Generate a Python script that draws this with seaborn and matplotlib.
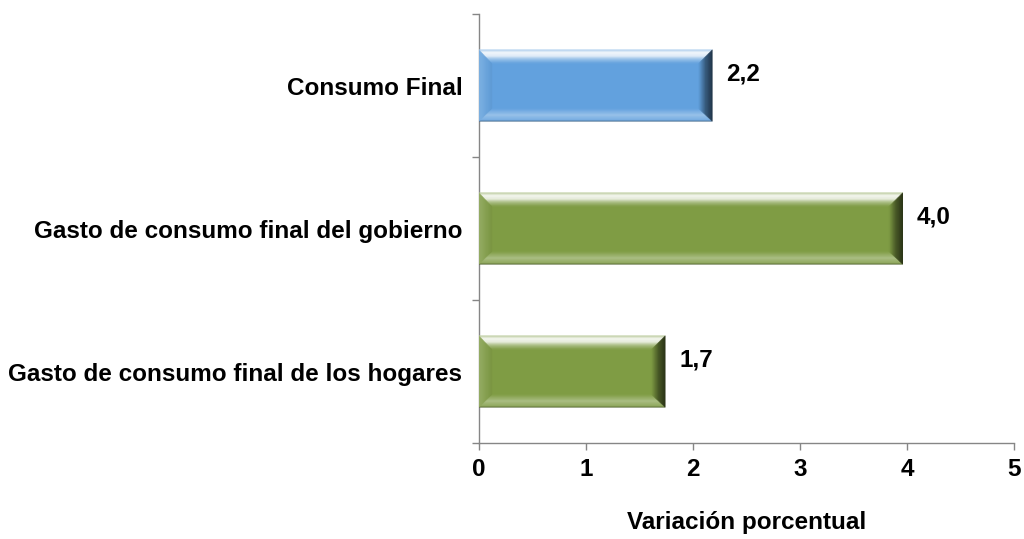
import numpy as np
import pandas as pd
import matplotlib
matplotlib.use("Agg")
import matplotlib.pyplot as plt
import seaborn as sns
from matplotlib.patches import Polygon
from matplotlib.colors import to_rgb

# ---- data ----
categorias = ["Consumo Final",
              "Gasto de consumo final del gobierno",
              "Gasto de consumo final de los hogares"]
valores = [2.18, 3.96, 1.74]
etiquetas = ["2,2", "4,0", "1,7"]
colores = ["#62A1DE", "#7F9C44", "#7F9C44"]
x_ticks = [0, 1, 2, 3, 4, 5]
x_titulo = "Variación porcentual"

sns.set_theme(style="white")
plt.rcParams["font.family"] = ["Liberation Sans", "DejaVu Sans"]
plt.rcParams["font.weight"] = "bold"

FS = 17.5
W, H = 1024, 539
fig = plt.figure(figsize=(W / 100, H / 100), dpi=100)
ax = fig.add_axes([479 / W, 1 - 443 / H, (1014 - 479) / W, (443 - 14) / H])

df = pd.DataFrame({"cat": categorias, "val": valores})
sns.barplot(data=df, x="val", y="cat", hue="cat", palette=colores,
            orient="h", width=0.5, saturation=1, legend=False, ax=ax,
            linewidth=0)

ax.set_xlim(0, 5)
ax.set_ylim(2.5, -0.5)
ax.set_xticks(x_ticks)
ax.set_xticklabels([str(t) for t in x_ticks])
ax.set_yticks(range(len(categorias)))
ax.set_yticklabels(categorias)
ax.set_yticks([-0.5, 0.5, 1.5, 2.5], minor=True)

gris = "#868686"
for s in ["top", "right"]:
    ax.spines[s].set_visible(False)
for s in ["left", "bottom"]:
    ax.spines[s].set_color(gris)
    ax.spines[s].set_linewidth(1.0)

ax.tick_params(axis="y", which="major", length=0, pad=12, labelsize=FS)
ax.tick_params(axis="y", which="minor", length=5, width=1, color=gris, left=True)
ax.tick_params(axis="x", which="major", length=5, width=1, color=gris,
               bottom=True, pad=6, labelsize=FS)
for lab in ax.get_xticklabels() + ax.get_yticklabels():
    lab.set_fontweight("bold")
    lab.set_color("black")

ax.set_xlabel(x_titulo, fontsize=FS, fontweight="bold", color="black")
ax.xaxis.set_label_coords(0.5, (443 - 522) / (443 - 14))
ax.xaxis.label.set_va("center")
ax.set_ylabel("")


# ---- bevel effect on each bar ----
def mix(c, target, a):
    c = np.array(c)
    t = np.array(target)
    return tuple(c * (1 - a) + t * a)


def interp(stops, t):
    ts = [s[0] for s in stops]
    cs = np.array([s[1] for s in stops])
    return tuple(np.interp(t, ts, cs[:, k]) for k in range(3))


inv = ax.transData.inverted()
N = 24
for patch, col in zip(ax.patches, colores):
    face = to_rgb(col)
    x, y = patch.get_x(), patch.get_y()
    w, h = patch.get_width(), patch.get_height()
    p0 = ax.transData.transform((x, y))
    p1 = ax.transData.transform((x + w, y + h))
    x0, x1 = min(p0[0], p1[0]), max(p0[0], p1[0])
    y0, y1 = min(p0[1], p1[1]), max(p0[1], p1[1])
    bl, br, bt, bbm = 13, 14, 14, 13
    white, black = (1, 1, 1), (0, 0, 0)
    top_st = [(0, mix(face, white, 0.45)), (0.2, mix(face, white, 0.93)),
              (0.45, mix(face, white, 0.85)), (0.7, mix(face, white, 0.35)),
              (1, face)]
    bot_st = [(0, mix(face, black, 0.45)), (0.12, mix(face, white, 0.15)),
              (0.5, mix(face, white, 0.35)), (0.8, mix(face, white, 0.15)),
              (1, face)]
    rgt_st = [(0, mix(face, black, 0.7)), (0.5, mix(face, black, 0.45)), (1, face)]
    lft_st = [(0, mix(face, white, 0.18)), (1, mix(face, black, 0.04))]

    def add(poly_disp, c):
        pts = inv.transform(np.array(poly_disp))
        ax.add_patch(Polygon(pts, closed=True, facecolor=c, edgecolor=c,
                             linewidth=0.3, zorder=3))

    for i in range(N):
        ta, tb = i / N, (i + 1) / N
        tm = (ta + tb) / 2
        add([(x0 + bl * ta, y1 - bt * ta), (x1 - br * ta, y1 - bt * ta),
             (x1 - br * tb, y1 - bt * tb), (x0 + bl * tb, y1 - bt * tb)],
            interp(top_st, tm))
        add([(x0 + bl * ta, y0 + bbm * ta), (x1 - br * ta, y0 + bbm * ta),
             (x1 - br * tb, y0 + bbm * tb), (x0 + bl * tb, y0 + bbm * tb)],
            interp(bot_st, tm))
        add([(x0 + bl * ta, y0 + bbm * ta), (x0 + bl * ta, y1 - bt * ta),
             (x0 + bl * tb, y1 - bt * tb), (x0 + bl * tb, y0 + bbm * tb)],
            interp(lft_st, tm))
        add([(x1 - br * ta, y0 + bbm * ta), (x1 - br * ta, y1 - bt * ta),
             (x1 - br * tb, y1 - bt * tb), (x1 - br * tb, y0 + bbm * tb)],
            interp(rgt_st, tm))

# ---- value labels ----
for i, (v, lab) in enumerate(zip(valores, etiquetas)):
    ax.annotate(lab, xy=(v, i), xytext=(10, 8), textcoords="offset points",
                ha="left", va="center", fontsize=FS, fontweight="bold",
                color="black")

fig.savefig("out.png", dpi=100)
